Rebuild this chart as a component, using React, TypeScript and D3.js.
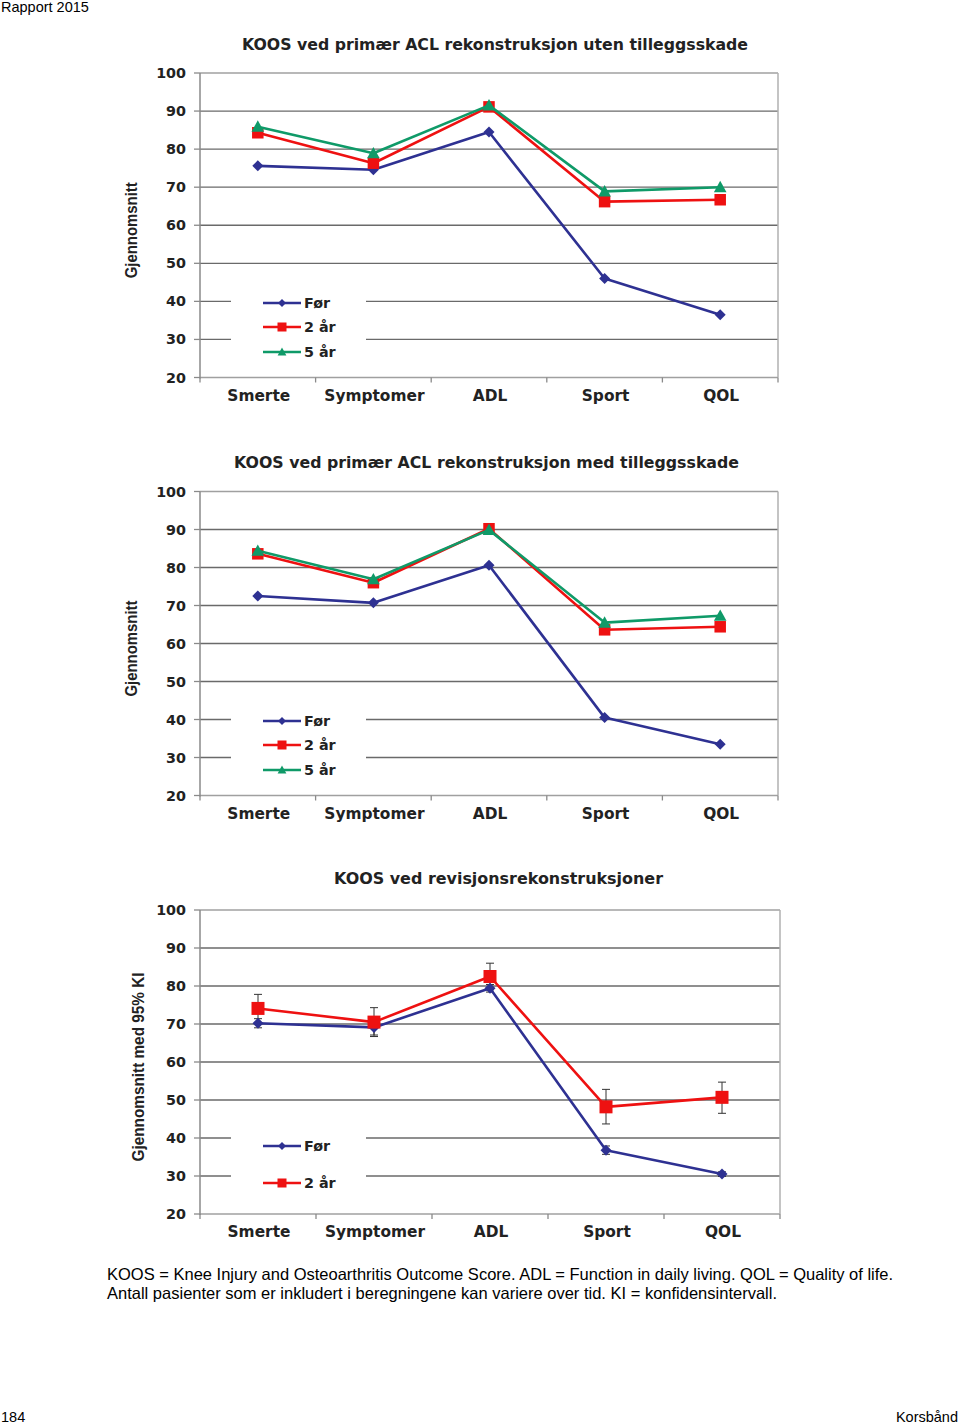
import React from "react";
import * as d3 from "d3";

const categories = ["Smerte", "Symptomer", "ADL", "Sport", "QOL"];
const yTicks = [20, 30, 40, 50, 60, 70, 80, 90, 100];

const chart1Foer = [75.6, 74.6, 84.5, 46.0, 36.5];
const chart1To = [84.3, 76.3, 91.1, 66.2, 66.7];
const chart1Fem = [85.9, 78.9, 91.5, 68.9, 70.0];

const chart2Foer = [72.5, 70.7, 80.6, 40.5, 33.5];
const chart2To = [83.6, 76.0, 90.2, 63.6, 64.4];
const chart2Fem = [84.4, 76.9, 89.9, 65.5, 67.3];

const chart3Foer = [70.2, 69.1, 79.4, 36.8, 30.5];
const chart3FoerLow = [69.0, 67.1, 78.4, 35.7, 29.9];
const chart3FoerHigh = [71.4, 71.1, 80.4, 37.9, 31.1];
const chart3To = [74.1, 70.5, 82.5, 48.2, 50.7];
const chart3ToLow = [70.4, 66.7, 79.0, 43.7, 46.5];
const chart3ToHigh = [77.8, 74.3, 86.0, 52.8, 54.7];

const BLUE = "#2e3192";
const RED = "#ee1111";
const GREEN = "#0f9a68";

type Series = {
  name: string;
  values: number[];
  color: string;
  marker: "diamond" | "square" | "triangle";
  low?: number[];
  high?: number[];
};

type ChartProps = {
  title: string;
  titleX: number;
  titleY: number;
  titleLen: number;
  yLabel: string;
  yLabelX: number;
  yLabelLen: number;
  top: number;
  bottom: number;
  left: number;
  right: number;
  series: Series[];
  legendRows: number[];
  legendBox: [number, number];
  squareSize: number;
};

function Marker({ type, x, y, color, size }: { type: string; x: number; y: number; color: string; size: number }) {
  if (type === "diamond") {
    const s = size * 0.5;
    return <path d={`M${x},${y - s}L${x + s},${y}L${x},${y + s}L${x - s},${y}Z`} fill={color} />;
  }
  if (type === "square") {
    const s = size / 2;
    return <rect x={x - s} y={y - s} width={size} height={size} fill={color} />;
  }
  const s = size * 0.55;
  return <path d={`M${x},${y - s}L${x + s},${y + s * 0.8}L${x - s},${y + s * 0.8}Z`} fill={color} />;
}

function Chart(p: ChartProps) {
  const x = d3.scaleBand<string>().domain(categories).range([p.left, p.right]);
  const y = d3.scaleLinear().domain([20, 100]).range([p.bottom, p.top]);
  const cx = (c: string) => (x(c) as number) + x.bandwidth() / 2;
  const line = d3
    .line<number>()
    .x((_, i) => cx(categories[i]))
    .y((v) => y(v));
  const boundaries = categories.map((c) => x(c) as number).concat([p.right]);
  const fontV = "'DejaVu Sans', Verdana, sans-serif";
  const markerSize = (m: string) => (m === "square" ? p.squareSize : m === "diamond" ? 11 : 11.5);
  return (
    <g>
      <text
        x={p.titleX}
        y={p.titleY}
        textAnchor="middle"
        fontFamily={fontV}
        fontWeight="bold"
        fontSize={15}
        textLength={p.titleLen}
        lengthAdjust="spacingAndGlyphs"
        fill="#222"
      >
        {p.title}
      </text>
      {yTicks.map((t) => (
        <line
          key={t}
          x1={p.left}
          x2={p.right}
          y1={y(t)}
          y2={y(t)}
          stroke={t === 100 || t === 20 ? "#a0a0a0" : "#6a6a6a"}
          strokeWidth={t === 100 || t === 20 ? 1.5 : 1.3}
        />
      ))}
      <line x1={p.right} x2={p.right} y1={p.top} y2={p.bottom} stroke="#b0b0b0" strokeWidth={1.5} />
      <line x1={p.left} x2={p.left} y1={p.top} y2={p.bottom + 1} stroke="#8a8a8a" strokeWidth={1.5} />
      {yTicks.map((t) => (
        <g key={"t" + t}>
          <line x1={p.left - 6} x2={p.left} y1={y(t)} y2={y(t)} stroke="#8a8a8a" strokeWidth={1.3} />
          <text x={p.left - 14} y={y(t) + 5} textAnchor="end" fontFamily={fontV} fontWeight="bold" fontSize={14.3} fill="#222">
            {t}
          </text>
        </g>
      ))}
      {boundaries.map((b, i) => (
        <line key={"b" + i} x1={b} x2={b} y1={p.bottom} y2={p.bottom + 5} stroke="#8a8a8a" strokeWidth={1.3} />
      ))}
      {categories.map((c) => (
        <text key={c} x={cx(c) + 1} y={p.bottom + 23} textAnchor="middle" fontFamily={fontV} fontWeight="bold" fontSize={15.4} fill="#222">
          {c}
        </text>
      ))}
      <text
        transform={`translate(${p.yLabelX},${(p.top + p.bottom) / 2 + 5}) rotate(-90)`}
        textAnchor="middle"
        fontFamily="'Liberation Sans', Arial, sans-serif"
        fontWeight="bold"
        fontSize={16}
        textLength={p.yLabelLen}
        lengthAdjust="spacingAndGlyphs"
        fill="#222"
      >
        {p.yLabel}
      </text>
      <rect x={p.left + 31} y={p.legendBox[0]} width={135} height={p.legendBox[1] - p.legendBox[0]} fill="#fff" />
      {p.series.map((s) =>
        s.low
          ? s.values.map((v, i) => {
              const xx = cx(categories[i]);
              const lo = y(s.low![i]);
              const hi = y(s.high![i]);
              return (
                <g key={s.name + "e" + i} stroke="#333" strokeWidth={1}>
                  <line x1={xx} x2={xx} y1={lo} y2={hi} />
                  <line x1={xx - 4} x2={xx + 4} y1={lo} y2={lo} />
                  <line x1={xx - 4} x2={xx + 4} y1={hi} y2={hi} />
                </g>
              );
            })
          : null
      )}
      {p.series.map((s) => (
        <g key={s.name}>
          <path d={line(s.values) as string} fill="none" stroke={s.color} strokeWidth={2.6} strokeLinejoin="round" />
          {s.values.map((v, i) => (
            <Marker key={i} type={s.marker} x={cx(categories[i])} y={y(v)} color={s.color} size={markerSize(s.marker)} />
          ))}
        </g>
      ))}
      {p.series.map((s, i) => (
        <g key={"l" + s.name}>
          <line x1={p.left + 63} x2={p.left + 101} y1={p.legendRows[i]} y2={p.legendRows[i]} stroke={s.color} strokeWidth={2.6} />
          <Marker type={s.marker} x={p.left + 82} y={p.legendRows[i]} color={s.color} size={s.marker === "square" ? 9 : 8} />
          <text x={p.left + 104} y={p.legendRows[i] + 5} fontFamily={fontV} fontWeight="bold" fontSize={14.3} fill="#222">
            {s.name}
          </text>
        </g>
      ))}
    </g>
  );
}

export default function App() {
  const sans = "'Liberation Sans', Arial, sans-serif";
  return (
    <svg width={960} height={1426} style={{ position: "absolute", left: 0, top: 0, background: "#fff" }}>
      <rect width={960} height={1426} fill="#fff" />
      <text x={1} y={12} fontFamily={sans} fontSize={14.5} fill="#000">
        Rapport 2015
      </text>
      <Chart
        title="KOOS ved primær ACL rekonstruksjon uten tilleggsskade"
        titleX={495}
        titleY={50}
        titleLen={506}
        yLabel="Gjennomsnitt"
        yLabelX={137}
        yLabelLen={96}
        top={73}
        bottom={377.5}
        left={200}
        right={778}
        squareSize={11.5}
        legendRows={[303, 327, 352]}
        legendBox={[290, 366]}
        series={[
          { name: "Før", values: chart1Foer, color: BLUE, marker: "diamond" },
          { name: "2 år", values: chart1To, color: RED, marker: "square" },
          { name: "5 år", values: chart1Fem, color: GREEN, marker: "triangle" },
        ]}
      />
      <Chart
        title="KOOS ved primær ACL rekonstruksjon med tilleggsskade"
        titleX={486.5}
        titleY={468}
        titleLen={505}
        yLabel="Gjennomsnitt"
        yLabelX={137}
        yLabelLen={96}
        top={491.5}
        bottom={795.5}
        left={200}
        right={778}
        squareSize={11.5}
        legendRows={[721, 745, 770]}
        legendBox={[708, 784]}
        series={[
          { name: "Før", values: chart2Foer, color: BLUE, marker: "diamond" },
          { name: "2 år", values: chart2To, color: RED, marker: "square" },
          { name: "5 år", values: chart2Fem, color: GREEN, marker: "triangle" },
        ]}
      />
      <Chart
        title="KOOS ved revisjonsrekonstruksjoner"
        titleX={498.5}
        titleY={884}
        titleLen={329}
        yLabel="Gjennomsnitt med 95% KI"
        yLabelX={144}
        yLabelLen={189}
        top={910}
        bottom={1214}
        left={200}
        right={780}
        squareSize={13}
        legendRows={[1146, 1183]}
        legendBox={[1128, 1200]}
        series={[
          { name: "Før", values: chart3Foer, color: BLUE, marker: "diamond", low: chart3FoerLow, high: chart3FoerHigh },
          { name: "2 år", values: chart3To, color: RED, marker: "square", low: chart3ToLow, high: chart3ToHigh },
        ]}
      />
      <text x={107} y={1280} fontFamily={sans} fontSize={16.5} fill="#000">
        KOOS = Knee Injury and Osteoarthritis Outcome Score. ADL = Function in daily living. QOL = Quality of life.
      </text>
      <text x={107} y={1299} fontFamily={sans} fontSize={16.5} fill="#000">
        Antall pasienter som er inkludert i beregningene kan variere over tid. KI = konfidensintervall.
      </text>
      <text x={1} y={1422} fontFamily={sans} fontSize={14.5} fill="#000">
        184
      </text>
      <text x={958} y={1422} textAnchor="end" fontFamily={sans} fontSize={14.5} fill="#000">
        Korsbånd
      </text>
    </svg>
  );
}
